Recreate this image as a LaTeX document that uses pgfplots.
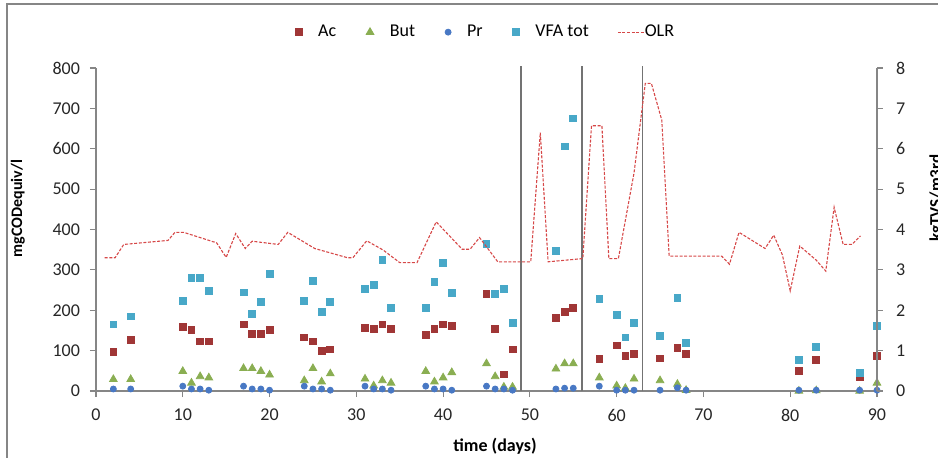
\documentclass[border=0pt]{standalone}
\usepackage{fontspec}
\setmainfont{Carlito}
\usepackage{pgfplots}
\pgfplotsset{compat=1.18}
\definecolor{acc}{RGB}{160,54,54}
\definecolor{butc}{RGB}{138,174,82}
\definecolor{prc}{RGB}{72,120,196}
\definecolor{vfac}{RGB}{72,168,200}
\definecolor{olrc}{RGB}{214,72,72}
\definecolor{axg}{RGB}{134,134,134}
\definecolor{vlg}{RGB}{115,115,115}
\tikzset{olrstyle/.style={olrc, line width=0.55pt, dash pattern=on 1.5pt off 0.8pt}}

\pgfplotstableread{
day Ac But Pr VFA
2 96 29 5 165
4 126 29 5 185
10 158 49 12 224
11 152 20 5 280
12 123 36 5 280
13 123 33 2 247
17 165 56 12 244
18 142 56 5 191
19 142 49 5 221
20 152 40 2 290
24 133 26 12 224
25 123 56 5 273
26 100 23 5 195
27 103 43 2 221
31 156 30 12 253
32 153 13 5 263
33 165 26 5 325
34 153 20 2 205
38 139 49 12 205
39 153 23 5 270
40 165 33 5 318
41 162 46 2 243
45 240 68 12 365
46 153 36 5 240
47 41 10 5 253
48 103 10 2 168
53 181 55 5 348
54 195 68 7 606
55 205 68 7 675
58 80 33 12 228
60 113 13 2 188
61 87 7 2 133
62 91 30 2 169
65 81 26 2 136
67 107 17 8 231
68 91 2 2 120
81 50 0 2 77
83 77 1 2 110
88 34 0 2 45
90 87 20 2 162
}\vfa

\pgfplotstableread{
day OLR
1 3.30
2.2 3.30
3.2 3.63
8.3 3.73
9.1 3.93
10.1 3.93
13.9 3.67
15.0 3.31
16.1 3.90
17.2 3.53
18.0 3.71
21.0 3.63
22.1 3.93
25.2 3.53
29.0 3.30
29.6 3.30
31.2 3.72
33.1 3.49
35.0 3.18
37.0 3.18
39.2 4.19
42.2 3.51
43.1 3.51
44.2 3.80
46.3 3.20
50.1 3.20
51.2 6.40
52.1 3.20
56.1 3.28
57.1 6.57
58.3 6.57
59.1 3.28
60.2 3.28
62.0 5.40
63.3 7.62
64.0 7.62
65.2 6.71
66.05 3.34
72.1 3.34
73.0 3.14
74.1 3.93
77.1 3.53
78.1 3.86
79.1 3.37
80.0 2.48
81.1 3.59
83.0 3.24
84.1 2.97
85.06 4.55
86.1 3.63
87.1 3.63
88.1 3.84
}\olr

\begin{document}
\begin{tikzpicture}
\pgfplotsset{
  common/.style={
    scale only axis, width=390.5pt, height=161.5pt,
    xmin=0, xmax=90, clip=false,
    tick align=outside, major tick length=3pt,
    axis line style={-, draw=axg, line width=0.6pt},
    tick style={draw=axg, line width=0.6pt},
    tick label style={font=\fontsize{9}{10}\selectfont, text=black!85},
    /pgf/number format/assume math mode=true,
  },
}
\begin{axis}[common,
  axis x line*=bottom, axis y line*=left,
  ymin=0, ymax=800, ytick={0,100,...,800},
  xtick={0,10,...,90},
  xticklabel style={yshift=-2.5pt},
  yticklabel style={xshift=-1.5pt},
  xlabel={\bfseries time (days)},
  xlabel style={font=\fontsize{9}{10}\selectfont, at={(axis description cs:0.511,-0.172)}, anchor=center},
  ylabel={\bfseries mgCODequiv/l},
  ylabel style={font=\fontsize{8}{9}\selectfont, at={(axis description cs:-0.0999,0.565)}, anchor=center},
  legend columns=5,
  legend style={draw=none, fill=none, at={(axis description cs:0.5003,1.111)}, anchor=center,
    font=\fontsize{9}{10}\selectfont, column sep=6pt,
    /tikz/every even column/.append style={column sep=13pt}},
]
\addplot[only marks, mark=square*, mark size=1.7pt, mark options={fill=acc, draw=acc}] table[x=day, y=Ac] {\vfa};
\addlegendentry{Ac}
\addplot[only marks, mark=triangle*, mark size=2.2pt, mark options={fill=butc, draw=butc}] table[x=day, y=But] {\vfa};
\addlegendentry{But}
\addplot[only marks, mark=*, mark size=1.5pt, mark options={fill=prc, draw=prc}] table[x=day, y=Pr] {\vfa};
\addlegendentry{Pr}
\addplot[only marks, mark=square*, mark size=1.7pt, mark options={fill=vfac, draw=vfac}] table[x=day, y=VFA] {\vfa};
\addlegendentry{VFA tot}
\addlegendimage{legend image code/.code={\draw[olrstyle, overlay] (-0.5pt,0pt) -- (13.3pt,0pt); \path[draw=none, fill=none] (0pt,0pt) -- (5pt,0pt);}}
\addlegendentry{OLR}
\addplot[forget plot, vlg, line width=0.75pt] coordinates {(49,0) (49,805)};
\addplot[forget plot, vlg, line width=0.75pt] coordinates {(56,0) (56,805)};
\addplot[forget plot, vlg, line width=0.75pt] coordinates {(63,0) (63,805)};
\end{axis}
\begin{axis}[common,
  axis y line*=right, axis x line=none,
  ymin=0, ymax=8, ytick={0,1,...,8},
  yticklabel style={xshift=3pt},
  ylabel={\bfseries kgTVS/m3rd},
  ylabel style={font=\fontsize{8.5}{9}\selectfont, at={(axis description cs:1.0768,0.597)}, anchor=center},
]
\addplot[olrstyle] table[x=day, y=OLR] {\olr};
\end{axis}
\draw[axg, line width=0.6pt] (-44.5pt,-40pt) -- (-44.5pt,193.5pt) -- (430pt,193.5pt);
\pgfresetboundingbox
\useasboundingbox (-48pt,-33pt) rectangle (421pt,195.5pt);
\end{tikzpicture}
\end{document}
